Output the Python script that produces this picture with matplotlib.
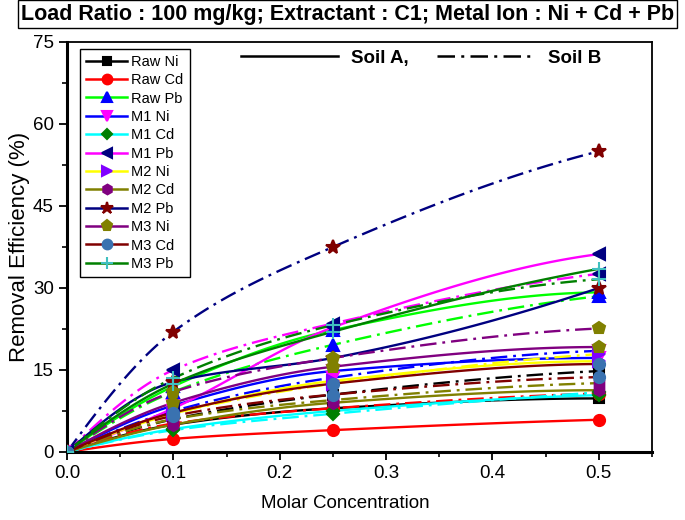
import numpy as np
import matplotlib
matplotlib.use('Agg')
import matplotlib.pyplot as plt
from matplotlib.lines import Line2D
from matplotlib.ticker import MultipleLocator, FormatStrFormatter

plt.rcParams['font.family'] = ['Liberation Sans', 'DejaVu Sans']

# molar concentration of extractant
conc = [0.0, 0.1, 0.25, 0.5]

labels = ['Raw Ni', 'Raw Cd', 'Raw Pb', 'M1 Ni', 'M1 Cd', 'M1 Pb',
          'M2 Ni', 'M2 Cd', 'M2 Pb', 'M3 Ni', 'M3 Cd', 'M3 Pb']

# removal efficiency (%) - Soil A (solid lines)
soil_a = [
    [0, 5.0, 8.0, 9.8],      # Raw Ni
    [0, 2.4, 4.0, 5.9],      # Raw Cd
    [0, 12.0, 22.3, 29.2],   # Raw Pb
    [0, 8.5, 14.8, 17.2],    # M1 Ni
    [0, 4.2, 7.5, 10.4],     # M1 Cd
    [0, 8.0, 22.8, 36.2],    # M1 Pb
    [0, 7.0, 13.0, 16.6],    # M2 Ni
    [0, 5.0, 9.0, 11.3],     # M2 Cd
    [0, 12.8, 17.2, 30.0],   # M2 Pb
    [0, 9.0, 15.6, 19.2],    # M3 Ni
    [0, 7.2, 12.5, 16.1],    # M3 Cd
    [0, 12.5, 22.0, 33.5],   # M3 Pb
]

# removal efficiency (%) - Soil B (dash-dot lines)
soil_b = [
    [0, 6.0, 10.5, 14.8],    # Raw Ni
    [0, 5.2, 8.0, 10.7],     # Raw Cd
    [0, 11.0, 19.6, 28.5],   # Raw Pb
    [0, 7.5, 13.6, 18.5],    # M1 Ni
    [0, 4.0, 7.0, 10.9],     # M1 Cd
    [0, 15.0, 23.5, 32.6],   # M1 Pb
    [0, 7.0, 12.5, 17.9],    # M2 Ni
    [0, 6.0, 9.5, 12.6],     # M2 Cd
    [0, 22.0, 37.5, 55.0],   # M2 Pb
    [0, 11.0, 17.2, 22.6],   # M3 Ni
    [0, 6.6, 10.5, 13.7],    # M3 Cd
    [0, 13.5, 23.2, 31.6],   # M3 Pb
]

line_colors = ['#000000', '#FF0000', '#00FF00', '#0000FF', '#00FFFF', '#FF00FF',
               '#FFFF00', '#808000', '#000080', '#800080', '#800000', '#008000']
marker_colors = ['#000000', '#FF0000', '#0000FF', '#FF00FF', '#008000', '#000080',
                 '#8000FF', '#800080', '#800000', '#808000', '#3A72B0', '#40C0C0']
markers = ['s', 'o', '^', 'v', 'D', '<', '>', 'h', '*', 'p', 'o', '+']
msizes = [7, 8, 8, 8, 6.5, 8, 8, 8, 10, 9, 8, 10]


def smooth(x, y, n=120):
    # monotone cubic (pchip) path through the measured points, for drawing only
    x = np.asarray(x, float)
    y = np.asarray(y, float)
    h = np.diff(x)
    d = np.diff(y) / h
    m = np.zeros_like(y)
    for k in range(1, len(x) - 1):
        if d[k - 1] * d[k] > 0:
            w1 = 2 * h[k] + h[k - 1]
            w2 = h[k] + 2 * h[k - 1]
            m[k] = (w1 + w2) / (w1 / d[k - 1] + w2 / d[k])
    m[0] = ((2 * h[0] + h[1]) * d[0] - h[0] * d[1]) / (h[0] + h[1])
    if np.sign(m[0]) != np.sign(d[0]):
        m[0] = 0
    m[-1] = ((2 * h[-1] + h[-2]) * d[-1] - h[-1] * d[-2]) / (h[-1] + h[-2])
    if np.sign(m[-1]) != np.sign(d[-1]):
        m[-1] = 0
    xs = np.linspace(x[0], x[-1], n)
    idx = np.clip(np.searchsorted(x, xs) - 1, 0, len(x) - 2)
    t = (xs - x[idx]) / h[idx]
    h00 = 2 * t**3 - 3 * t**2 + 1
    h10 = t**3 - 2 * t**2 + t
    h01 = -2 * t**3 + 3 * t**2
    h11 = t**3 - t**2
    ys = h00 * y[idx] + h10 * h[idx] * m[idx] + h01 * y[idx + 1] + h11 * h[idx] * m[idx + 1]
    return xs, ys


fig = plt.figure(figsize=(6.85, 5.2), dpi=100)
ax = fig.add_axes([67 / 685, 68 / 520, 585 / 685, 410 / 520])

dashdot = (0, (7, 2.5, 1.2, 2.5))

for i in range(len(labels)):
    xs, ys = smooth(conc, soil_a[i])
    ax.plot(xs, ys, color=line_colors[i], lw=1.7, zorder=2)
    xs, ys = smooth(conc, soil_b[i])
    ax.plot(xs, ys, color=line_colors[i], lw=1.7, ls=dashdot, zorder=2)

for i in range(len(labels)):
    for vals in (soil_a[i], soil_b[i]):
        ax.plot(conc, vals, ls='none', marker=markers[i], ms=msizes[i],
                mfc=marker_colors[i], mec=marker_colors[i], mew=1.5, zorder=3)

ax.set_xlim(0, 0.55)
ax.set_ylim(0, 75)
ax.xaxis.set_major_locator(MultipleLocator(0.1))
ax.xaxis.set_minor_locator(MultipleLocator(0.05))
ax.xaxis.set_major_formatter(FormatStrFormatter('%.1f'))
ax.yaxis.set_major_locator(MultipleLocator(15))
ax.yaxis.set_minor_locator(MultipleLocator(7.5))
ax.tick_params(which='major', length=6, width=1.3, labelsize=13.5, direction='out')
ax.tick_params(which='minor', length=3.5, width=1.2, direction='out')
for sp in ax.spines.values():
    sp.set_linewidth(1.3)
ax.spines['left'].set_linewidth(2.2)
ax.spines['bottom'].set_linewidth(2.2)

ax.set_xlabel('Molar Concentration', fontsize=13.5)
ax.xaxis.set_label_coords(0.475, -0.105)
ax.set_ylabel('Removal Efficiency (%)', fontsize=16)
ax.yaxis.set_label_coords(-0.063, 0.5)

handles = [Line2D([], [], color=line_colors[i], lw=1.8, marker=markers[i], ms=msizes[i] - 1,
                  mfc=marker_colors[i], mec=marker_colors[i], mew=1.5)
           for i in range(len(labels))]
leg1 = ax.legend(handles, labels, loc='upper left', bbox_to_anchor=(0.018, 0.99),
                 fontsize=10.5, frameon=True, fancybox=False, edgecolor='black',
                 framealpha=1, labelspacing=0.3, handlelength=2.8, handletextpad=0.3,
                 borderpad=0.4, borderaxespad=0.2)
leg1.get_frame().set_linewidth(1.0)
ax.add_artist(leg1)

soil_handles = [Line2D([], [], color='black', lw=1.8),
                Line2D([], [], color='black', lw=1.8, ls=dashdot)]
ax.legend(soil_handles, ['Soil A,', 'Soil B'], loc='upper center',
          bbox_to_anchor=(0.605, 1.022), ncol=2, frameon=False, handlelength=5.2,
          columnspacing=1.5, handletextpad=0.7, prop={'size': 13.5, 'weight': 'bold'})

fig.text(0.507, 0.973, 'Load Ratio : 100 mg/kg; Extractant : C1; Metal Ion : Ni + Cd + Pb',
         ha='center', va='center', fontsize=15.5, fontweight='bold',
         bbox=dict(boxstyle='square,pad=0.15', fc='white', ec='black', lw=1.0))

fig.savefig('out.png', dpi=100)
